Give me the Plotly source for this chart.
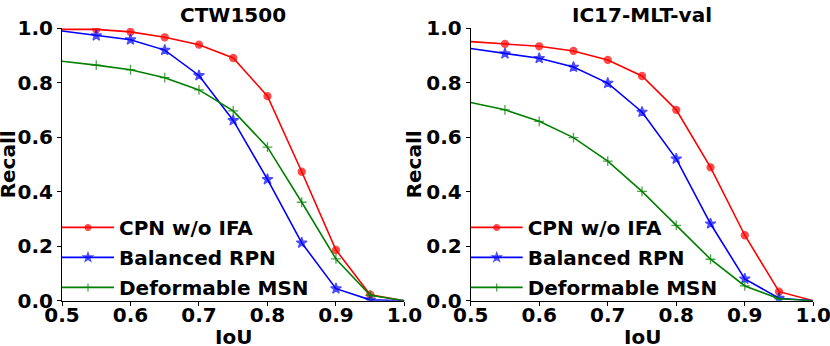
import plotly.graph_objects as go
from plotly.subplots import make_subplots

iou = [0.5, 0.55, 0.6, 0.65, 0.7, 0.75, 0.8, 0.85, 0.9, 0.95, 1.0]

# CTW1500
ctw_cpn = [0.995, 0.995, 0.986, 0.966, 0.939, 0.89, 0.75, 0.473, 0.186, 0.022, 0.0]
ctw_rpn = [0.989, 0.972, 0.957, 0.919, 0.826, 0.661, 0.445, 0.212, 0.044, 0.003, 0.0]
ctw_msn = [0.878, 0.864, 0.847, 0.818, 0.773, 0.696, 0.563, 0.361, 0.153, 0.02, 0.0]

# IC17-MLT-val
mlt_cpn = [0.95, 0.942, 0.933, 0.916, 0.883, 0.824, 0.70, 0.489, 0.24, 0.033, 0.0]
mlt_rpn = [0.925, 0.906, 0.889, 0.857, 0.798, 0.692, 0.52, 0.282, 0.08, 0.009, 0.0]
mlt_msn = [0.727, 0.70, 0.658, 0.598, 0.512, 0.401, 0.276, 0.152, 0.054, 0.007, 0.0]

names = ["CPN w/o IFA", "Balanced RPN", "Deformable MSN"]
colors = ["#ff0000", "#0000ff", "#008000"]
symbols = ["circle", "star", "cross-thin"]
msizes = [7, 8, 7]

panels = [("CTW1500", [ctw_cpn, ctw_rpn, ctw_msn], "legend"),
          ("IC17-MLT-val", [mlt_cpn, mlt_rpn, mlt_msn], "legend2")]

fig = make_subplots(rows=1, cols=2)

for col, (title, series, leg) in enumerate(panels, start=1):
    for i, ys in enumerate(series):
        # no markers on the end points (they sit on the axes)
        sizes = [0] + [msizes[i]] * (len(iou) - 2) + [0]
        fig.add_trace(go.Scatter(x=iou, y=ys, name=names[i], mode="lines+markers",
                                 line=dict(color=colors[i], width=1.6),
                                 marker=dict(symbol=symbols[i], size=sizes, color=colors[i],
                                             line=dict(color=colors[i], width=1.3)),
                                 legend=leg, legendgroup=f"{leg}{i}", showlegend=True),
                      row=1, col=col)

xdoms = [[0.0747, 0.4873], [0.5671, 0.9799]]
ydom = [0.131, 0.919]
axis_common = dict(showline=True, linecolor="black", linewidth=1, ticks="outside",
                   ticklen=4, tickwidth=1, tickcolor="black", showgrid=False, zeroline=False,
                   mirror=False, automargin=False, ticklabeloverflow="allow",
                   tickfont=dict(size=20, color="black", weight="bold"))

for col in (1, 2):
    fig.update_xaxes(domain=xdoms[col - 1], range=[0.5, 1.0], tickvals=[0.5, 0.6, 0.7, 0.8, 0.9, 1.0],
                     tickformat=".1f", ticklabelstandoff=-8, **axis_common, row=1, col=col)
    fig.update_yaxes(domain=ydom, range=[0.0, 1.0], tickvals=[0.0, 0.2, 0.4, 0.6, 0.8, 1.0],
                     tickformat=".1f", **axis_common, row=1, col=col)

txt_font = dict(size=20, color="black", weight="bold")
annots = []
recall_x = [8 / 830, 414 / 830]
for col, (title, _, _) in enumerate(panels):
    mid = (xdoms[col][0] + xdoms[col][1]) / 2
    annots.append(dict(text=title, x=mid, y=1 - 15 / 346, xref="paper", yref="paper",
                       showarrow=False, xanchor="center", yanchor="middle", font=txt_font))
    annots.append(dict(text="IoU", x=mid, y=1 - 337 / 346, xref="paper", yref="paper",
                       showarrow=False, xanchor="center", yanchor="middle", font=txt_font))
    annots.append(dict(text="Recall", x=recall_x[col], y=(ydom[0] + ydom[1]) / 2, xref="paper",
                       yref="paper", textangle=-90, showarrow=False, xanchor="center",
                       yanchor="middle", font=txt_font))

leg_common = dict(bgcolor="rgba(0,0,0,0)", borderwidth=0, itemwidth=52, tracegroupgap=1,
                  font=dict(size=20, color="black", weight="bold"), xanchor="left", yanchor="bottom")

fig.update_layout(
    width=830, height=346, margin=dict(l=0, r=0, t=0, b=0),
    plot_bgcolor="white", paper_bgcolor="white",
    font=dict(family="DejaVu Sans", size=20, color="black", weight="bold"),
    annotations=annots,
    legend=dict(x=xdoms[0][0] - 5 / 830, y=0.113, **leg_common),
    legend2=dict(x=xdoms[1][0] - 5 / 830, y=0.113, **leg_common),
)

fig.write_html("out.html", config={"displayModeBar": False},
               post_script="document.body.style.margin='0';")
